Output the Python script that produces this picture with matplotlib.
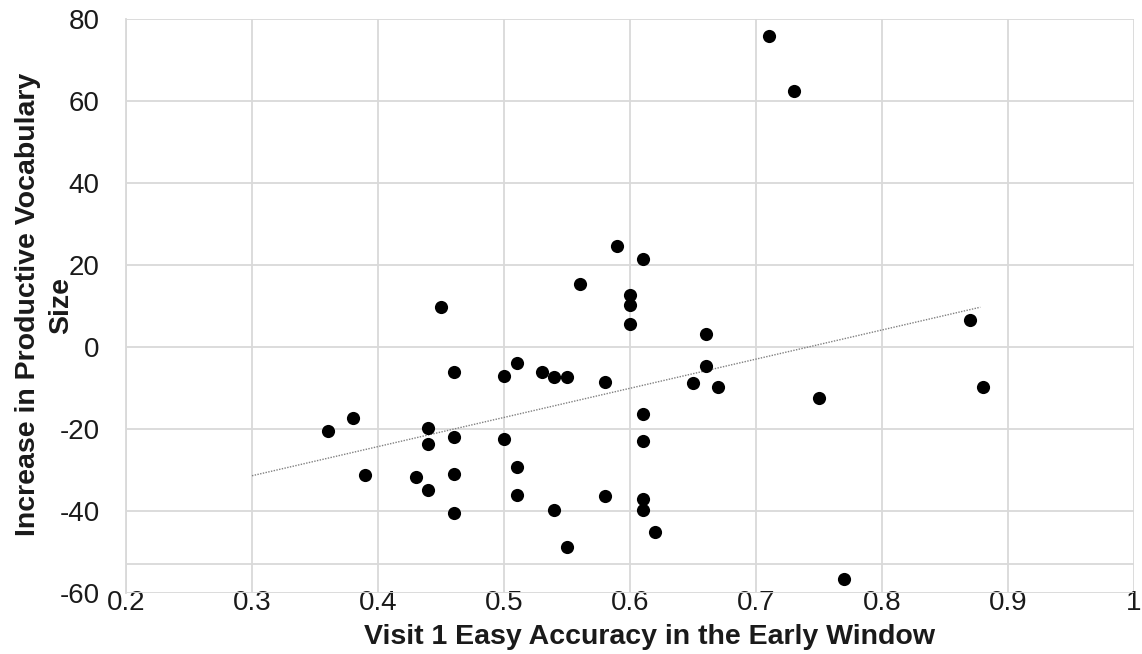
import matplotlib
matplotlib.use("Agg")
import matplotlib.pyplot as plt

# Data
accuracy = [0.36, 0.38, 0.39, 0.43, 0.44, 0.44, 0.44, 0.45, 0.46, 0.46,
            0.46, 0.46, 0.50, 0.50, 0.51, 0.51, 0.51, 0.53, 0.54, 0.55,
            0.54, 0.55, 0.56, 0.58, 0.58, 0.59, 0.60, 0.60, 0.60, 0.61,
            0.61, 0.61, 0.61, 0.61, 0.62, 0.65, 0.66, 0.66, 0.67, 0.71,
            0.73, 0.75, 0.77, 0.87, 0.88]
vocab_increase = [-20.5, -17.2, -31.3, -31.7, -19.8, -23.7, -34.8, 9.7, -6.2, -21.9,
                  -30.9, -40.6, -7.1, -22.4, -4.0, -29.3, -36.0, -6.2, -7.4, -7.4,
                  -39.8, -48.8, 15.3, -8.6, -36.3, 24.6, 12.6, 10.2, 5.5, 21.5,
                  -16.4, -23.0, -37.1, -39.8, -45.0, -8.9, 3.2, -4.6, -9.8, 75.9,
                  62.5, -12.5, -56.7, 6.6, -9.8]

trend_x = [0.30, 0.878]
trend_y = [-31.4, 9.7]

x_ticks = [0.2, 0.3, 0.4, 0.5, 0.6, 0.7, 0.8, 0.9, 1.0]
x_tick_labels = ["0.2", "0.3", "0.4", "0.5", "0.6", "0.7", "0.8", "0.9", "1"]
y_ticks = [-60, -40, -20, 0, 20, 40, 60, 80]
axis_line_y = -52.9

x_title = "Visit 1 Easy Accuracy in the Early Window"
y_title_lines = ["Increase in Productive Vocabulary", "Size"]

plt.rcParams['font.family'] = ['Liberation Sans', 'DejaVu Sans']
plt.rcParams['axes.unicode_minus'] = False

fig = plt.figure(figsize=(11.42, 6.54), dpi=100)
ax = fig.add_axes([126/1142, 61/654, 1008/1142, 574/654])

grid_color = "#d9d9d9"
ax.set_xlim(0.2, 1.0)
ax.set_ylim(-60, 80)
ax.set_xticks(x_ticks)
ax.set_xticklabels(x_tick_labels)
ax.set_yticks(y_ticks)
ax.grid(True, color=grid_color, linewidth=1.3)
ax.set_axisbelow(True)
for side in ["top", "right", "bottom"]:
    ax.spines[side].set_visible(False)
ax.spines["left"].set_color(grid_color)
ax.spines["left"].set_linewidth(1.3)
ax.axhline(axis_line_y, color=grid_color, linewidth=1.3, zorder=0.5)

ax.tick_params(axis="both", length=0, labelsize=20, colors="#1a1a1a")
ax.tick_params(axis="x", pad=-2)
ax.tick_params(axis="y", pad=19)

ax.plot(trend_x, trend_y, linestyle=(0, (1, 1)), color="#808080", linewidth=1.0, zorder=2)
ax.scatter(accuracy, vocab_increase, s=90, color="black", zorder=3, linewidths=0)

ax.set_xlabel(x_title, fontsize=20.5, fontweight="bold", color="#1a1a1a")
ax.xaxis.set_label_coords((649.5 - 126) / 1008, -0.054)

# y title drawn as two rotated lines (baselines at ~35px and ~68px from the left edge)
ax.text((35 - 126) / 1008, 0.502, y_title_lines[0], transform=ax.transAxes,
        rotation=90, rotation_mode="anchor", ha="center", va="baseline",
        fontsize=20.5, fontweight="bold", color="#1a1a1a")
ax.text((68 - 126) / 1008, 0.5, y_title_lines[1], transform=ax.transAxes,
        rotation=90, rotation_mode="anchor", ha="center", va="baseline",
        fontsize=20.5, fontweight="bold", color="#1a1a1a")

fig.savefig("out.png", dpi=100, facecolor="white")
